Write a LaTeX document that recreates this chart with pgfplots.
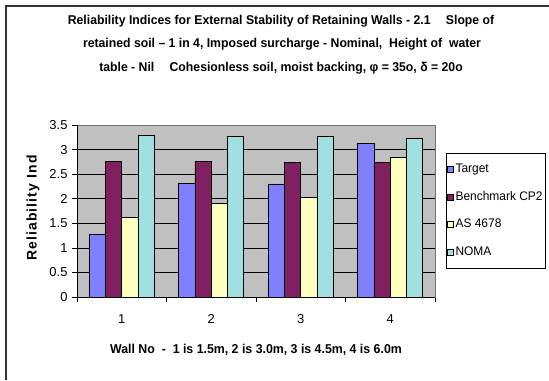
\documentclass[border=0pt]{standalone}
\usepackage{pgfplots}
\pgfplotsset{compat=1.18}
\usepackage{fontspec}
\setmainfont{Liberation Sans}
\newfontfamily\narrowfont[FakeStretch=0.96]{Liberation Sans}
\newfontfamily\spacedfont[LetterSpace=8]{Liberation Sans}

\definecolor{plotgray}{HTML}{C0C0C0}
\definecolor{ctarget}{HTML}{8080FF}
\definecolor{cbench}{HTML}{802060}
\definecolor{cas}{HTML}{FFFFC0}
\definecolor{cnoma}{HTML}{A0E0E0}

\begin{document}
\begin{tikzpicture}[x=1bp,y=1bp]
\useasboundingbox (0,0) rectangle (549,380);
\fill[white] (0,0) rectangle (549,380);
% chart frame
\draw[line width=2bp, black!80] (6,0) -- (6,374) -- (549,374);

% title
\tikzset{titletext/.style={font=\narrowfont\bfseries\fontsize{12.8}{14}\selectfont}}
\node[titletext] at (281,358.5) {Reliability Indices for External Stability of Retaining Walls - 2.1\hspace{1.2em}Slope of};
\node[titletext] at (282,335.5) {retained soil – 1 in 4, Imposed surcharge - Nominal,\ \ Height of\ \ water};
\node[titletext] at (281,312) {table - Nil\hspace{1.2em}Cohesionless soil, moist backing, φ = 35o, δ = 20o};

% axis titles
\node[font=\spacedfont\bfseries\fontsize{14}{16}\selectfont, rotate=90] at (33,172) {Reliability Ind};
\node[font=\narrowfont\bfseries\fontsize{12.9}{14}\selectfont] at (256,30) {Wall No\ \ -\ \ 1 is 1.5m, 2 is 3.0m, 3 is 4.5m, 4 is 6.0m};

\begin{axis}[
  at={(77bp,83bp)}, anchor=south west,
  scale only axis, width=358bp, height=172bp,
  xmin=0.5, xmax=4.5, ymin=0, ymax=3.5,
  ybar=0pt, bar width=16.3bp,
  axis background/.style={fill=plotgray},
  axis line style={draw=gray!90!black, line width=0.8bp},
  ymajorgrids, grid style={black, line width=0.7bp},
  ytick={0,0.5,...,3.5},
  yticklabels={0,0.5,1,1.5,2,2.5,3,3.5},
  xtick={1,2,3,4}, xticklabels={1,2,3,4},
  minor xtick={0.5,1.5,2.5,3.5,4.5},
  major x tick style={draw=none},
  tick align=outside, tick pos=left,
  major tick length=5bp, minor tick length=5bp,
  tick style={black, line width=0.7bp},
  ticklabel style={font=\fontsize{13}{15}\selectfont},
  xticklabel style={yshift=-9bp},
  yticklabel style={xshift=-1bp},
  legend cell align=left,
  legend image code/.code={\draw[#1, line width=0.6bp] (0bp,-3bp) rectangle (6bp,3bp);},
  legend style={
    at={(1.031,0.837)}, anchor=north west,
    draw=black, line width=0.7bp, fill=white,
    inner xsep=1bp, inner ysep=8.5bp,
    row sep=12.7bp,
    nodes={font=\narrowfont\fontsize{12.5}{14}\selectfont, text height=8.5bp, text depth=2.5bp, inner ysep=2bp, inner xsep=1.5bp},
  },
]
\addplot[fill=ctarget, draw=black, line width=0.8bp] coordinates {(1,1.28) (2,2.31) (3,2.30) (4,3.12)};
\addplot[fill=cbench, draw=black, line width=0.8bp] coordinates {(1,2.75) (2,2.75) (3,2.73) (4,2.73)};
\addplot[fill=cas, draw=black, line width=0.8bp] coordinates {(1,1.61) (2,1.91) (3,2.03) (4,2.84)};
\addplot[fill=cnoma, draw=black, line width=0.8bp] coordinates {(1,3.29) (2,3.26) (3,3.26) (4,3.23)};
\legend{Target, Benchmark CP2, AS 4678, NOMA}
% dark left and bottom axis lines
\draw[black, line width=0.8bp] (rel axis cs:0,1) -- (rel axis cs:0,0) -- (rel axis cs:1,0);
\end{axis}
\end{tikzpicture}
\end{document}
